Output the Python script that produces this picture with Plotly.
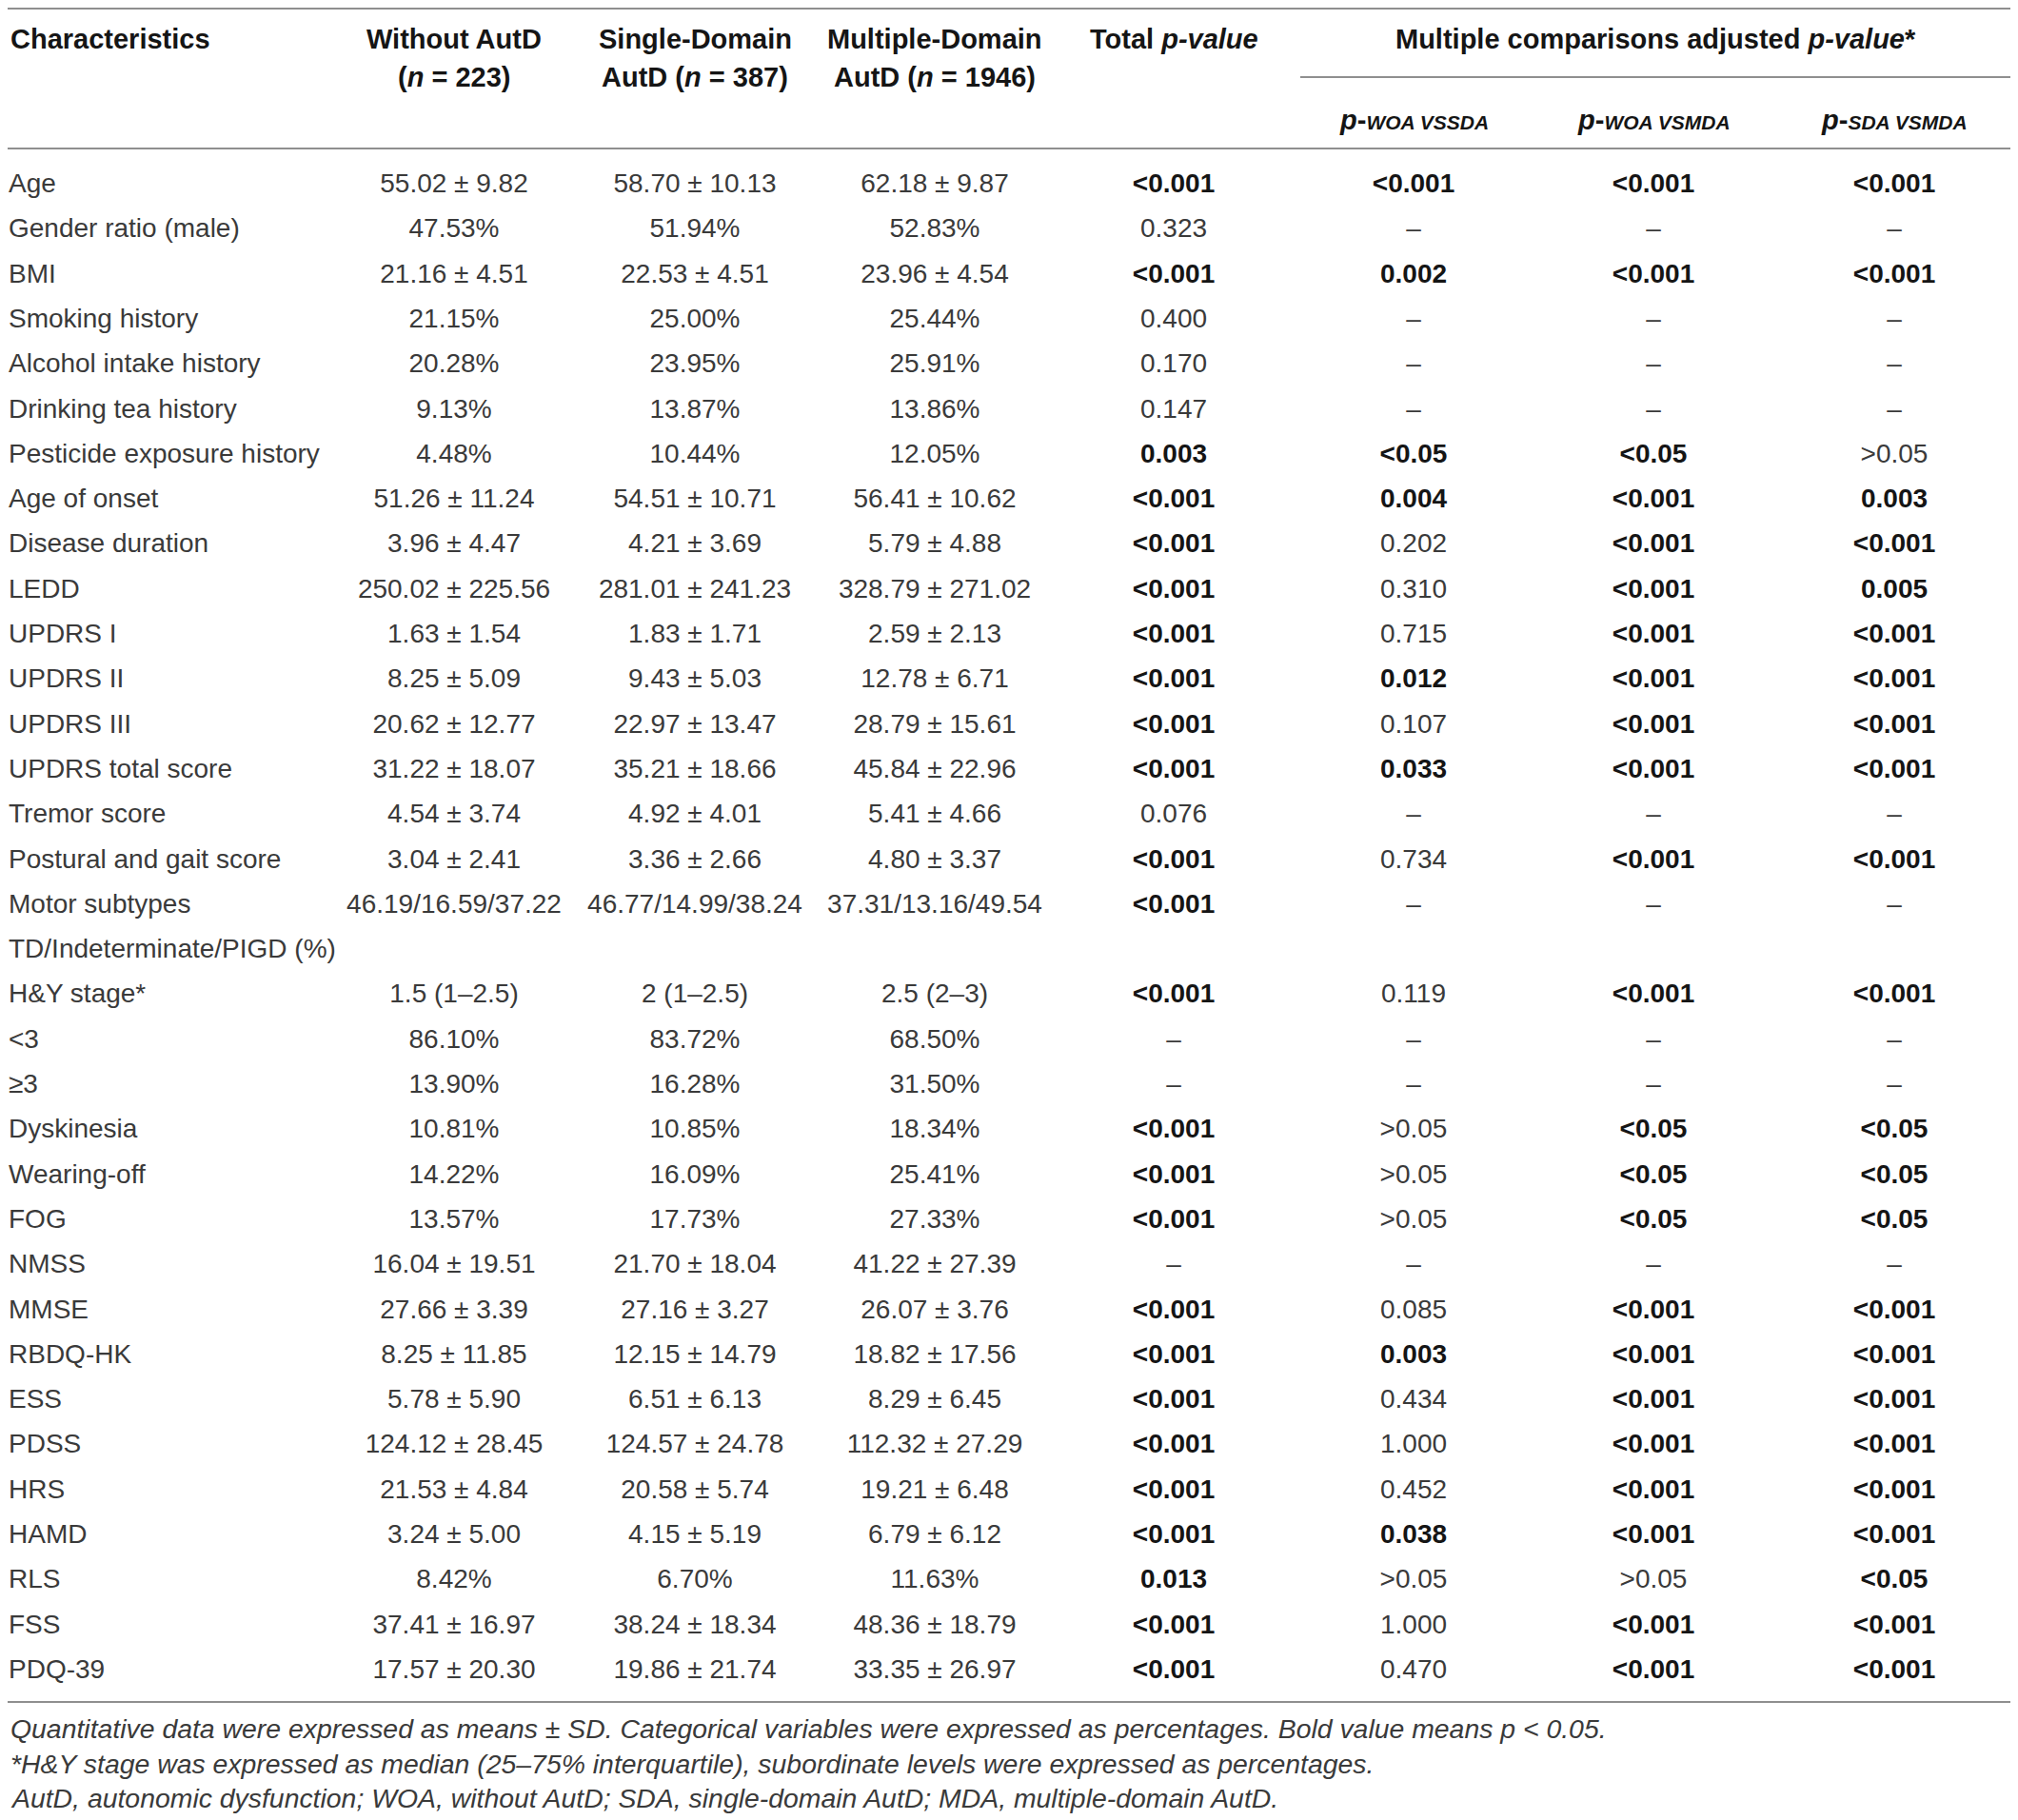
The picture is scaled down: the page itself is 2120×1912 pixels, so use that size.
# Table: clinical characteristics by autonomic dysfunction group, drawn as text traces

import plotly.graph_objs as go

# data
characteristics = ['Age', 'Gender ratio (male)', 'BMI', 'Smoking history', 'Alcohol intake history',
                   'Drinking tea history', 'Pesticide exposure history', 'Age of onset', 'Disease duration',
                   'LEDD', 'UPDRS I', 'UPDRS II', 'UPDRS III', 'UPDRS total score', 'Tremor score',
                   'Postural and gait score', 'Motor subtypes', 'TD/Indeterminate/PIGD (%)', 'H&Y stage*',
                   '<3', '≥3', 'Dyskinesia', 'Wearing-off', 'FOG', 'NMSS', 'MMSE', 'RBDQ-HK', 'ESS', 'PDSS',
                   'HRS', 'HAMD', 'RLS', 'FSS', 'PDQ-39']

without_autd = ['55.02 ± 9.82', '47.53%', '21.16 ± 4.51', '21.15%', '20.28%', '9.13%', '4.48%',
                '51.26 ± 11.24', '3.96 ± 4.47', '250.02 ± 225.56', '1.63 ± 1.54', '8.25 ± 5.09',
                '20.62 ± 12.77', '31.22 ± 18.07', '4.54 ± 3.74', '3.04 ± 2.41', '46.19/16.59/37.22', '',
                '1.5 (1–2.5)', '86.10%', '13.90%', '10.81%', '14.22%', '13.57%', '16.04 ± 19.51',
                '27.66 ± 3.39', '8.25 ± 11.85', '5.78 ± 5.90', '124.12 ± 28.45', '21.53 ± 4.84',
                '3.24 ± 5.00', '8.42%', '37.41 ± 16.97', '17.57 ± 20.30']

single_domain = ['58.70 ± 10.13', '51.94%', '22.53 ± 4.51', '25.00%', '23.95%', '13.87%', '10.44%',
                 '54.51 ± 10.71', '4.21 ± 3.69', '281.01 ± 241.23', '1.83 ± 1.71', '9.43 ± 5.03',
                 '22.97 ± 13.47', '35.21 ± 18.66', '4.92 ± 4.01', '3.36 ± 2.66', '46.77/14.99/38.24', '',
                 '2 (1–2.5)', '83.72%', '16.28%', '10.85%', '16.09%', '17.73%', '21.70 ± 18.04',
                 '27.16 ± 3.27', '12.15 ± 14.79', '6.51 ± 6.13', '124.57 ± 24.78', '20.58 ± 5.74',
                 '4.15 ± 5.19', '6.70%', '38.24 ± 18.34', '19.86 ± 21.74']

multiple_domain = ['62.18 ± 9.87', '52.83%', '23.96 ± 4.54', '25.44%', '25.91%', '13.86%', '12.05%',
                   '56.41 ± 10.62', '5.79 ± 4.88', '328.79 ± 271.02', '2.59 ± 2.13', '12.78 ± 6.71',
                   '28.79 ± 15.61', '45.84 ± 22.96', '5.41 ± 4.66', '4.80 ± 3.37', '37.31/13.16/49.54', '',
                   '2.5 (2–3)', '68.50%', '31.50%', '18.34%', '25.41%', '27.33%', '41.22 ± 27.39',
                   '26.07 ± 3.76', '18.82 ± 17.56', '8.29 ± 6.45', '112.32 ± 27.29', '19.21 ± 6.48',
                   '6.79 ± 6.12', '11.63%', '48.36 ± 18.79', '33.35 ± 26.97']

total_p = ['<0.001', '0.323', '<0.001', '0.400', '0.170', '0.147', '0.003', '<0.001', '<0.001',
           '<0.001', '<0.001', '<0.001', '<0.001', '<0.001', '0.076', '<0.001', '<0.001', '',
           '<0.001', '–', '–', '<0.001', '<0.001', '<0.001', '–', '<0.001', '<0.001', '<0.001',
           '<0.001', '<0.001', '<0.001', '0.013', '<0.001', '<0.001']

p_woa_sda = ['<0.001', '–', '0.002', '–', '–', '–', '<0.05', '0.004', '0.202', '0.310', '0.715',
             '0.012', '0.107', '0.033', '–', '0.734', '–', '', '0.119', '–', '–', '>0.05', '>0.05',
             '>0.05', '–', '0.085', '0.003', '0.434', '1.000', '0.452', '0.038', '>0.05', '1.000', '0.470']

p_woa_mda = ['<0.001', '–', '<0.001', '–', '–', '–', '<0.05', '<0.001', '<0.001', '<0.001', '<0.001',
             '<0.001', '<0.001', '<0.001', '–', '<0.001', '–', '', '<0.001', '–', '–', '<0.05', '<0.05',
             '<0.05', '–', '<0.001', '<0.001', '<0.001', '<0.001', '<0.001', '<0.001', '>0.05',
             '<0.001', '<0.001']

p_sda_mda = ['<0.001', '–', '<0.001', '–', '–', '–', '>0.05', '0.003', '<0.001', '0.005', '<0.001',
             '<0.001', '<0.001', '<0.001', '–', '<0.001', '–', '', '<0.001', '–', '–', '<0.05', '<0.05',
             '<0.05', '–', '<0.001', '<0.001', '<0.001', '<0.001', '<0.001', '<0.001', '<0.05',
             '<0.001', '<0.001']

footnotes = ['Quantitative data were expressed as means ± SD. Categorical variables were expressed as '
             'percentages. Bold value means p < 0.05.',
             '*H&Y stage was expressed as median (25–75% interquartile), subordinate levels were '
             'expressed as percentages.',
             'AutD, autonomic dysfunction; WOA, without AutD; SDA, single-domain AutD; MDA, '
             'multiple-domain AutD.']

# layout settings (axis units = page pixels; page body has an 8px margin)
W, H = 2120, 1912
OFF = 8
FONT = 'Liberation Sans'
SIZE = 28
HSIZE = 29
COLOR = '#3a3a3a'
DARK = '#151515'
RULE = '#8f8f8f'
ROW_TOP, ROW_STEP = 195, 47.3
col_x = [9, 477, 730, 982, 1233, 1485, 1737, 1990]


def esc(s):
    return s.replace('&', '&amp;').replace('<', '&lt;').replace('>', '&gt;')


def pfmt(s):
    # bold when p < 0.05
    bold = s.startswith('<')
    try:
        bold = bold or float(s) < 0.05
    except ValueError:
        pass
    if bold:
        return '<b><span style="color:%s">%s</span></b>' % (DARK, esc(s))
    return esc(s)


row_y = [ROW_TOP + i * ROW_STEP for i in range(len(characteristics))]

columns = [[esc(s) for s in characteristics],
           [esc(s) for s in without_autd],
           [esc(s) for s in single_domain],
           [esc(s) for s in multiple_domain],
           [pfmt(s) for s in total_p],
           [pfmt(s) for s in p_woa_sda],
           [pfmt(s) for s in p_woa_mda],
           [pfmt(s) for s in p_sda_mda]]

data = []
for i, col in enumerate(columns):
    data.append(go.Scatter(x=[col_x[i]] * len(col), y=row_y, text=col, mode='text',
                           textposition='middle right' if i == 0 else 'middle center',
                           textfont=dict(family=FONT, size=SIZE, color=COLOR),
                           hoverinfo='skip', showlegend=False))

# header texts
sub = '<span style="font-size:21px">%s</span>'
headers = [
    (col_x[0], 41, '<b>Characteristics</b>', 'left'),
    (col_x[1], 41, '<b>Without AutD</b>', 'center'),
    (col_x[1], 81, '<b>(<i>n</i> = 223)</b>', 'center'),
    (col_x[2], 41, '<b>Single-Domain</b>', 'center'),
    (col_x[2], 81, '<b>AutD (<i>n</i> = 387)</b>', 'center'),
    (col_x[3], 41, '<b>Multiple-Domain</b>', 'center'),
    (col_x[3], 81, '<b>AutD (<i>n</i> = 1946)</b>', 'center'),
    (col_x[4], 41, '<b>Total <i>p-value</i></b>', 'center'),
    (1739, 41, '<b>Multiple comparisons adjusted <i>p-value</i>*</b>', 'center'),
    (col_x[5], 126, '<b><i>p</i>-<i>' + sub % 'WOA VSSDA' + '</i></b>', 'center'),
    (col_x[6], 126, '<b><i>p</i>-<i>' + sub % 'WOA VSMDA' + '</i></b>', 'center'),
    (col_x[7], 126, '<b><i>p</i>-<i>' + sub % 'SDA VSMDA' + '</i></b>', 'center'),
]
annotations = []
for x, y, t, a in headers:
    annotations.append(dict(x=x, y=y, xref='x', yref='y', text=t, showarrow=False,
                            xanchor=a, yanchor='middle',
                            font=dict(family=FONT, size=HSIZE, color=DARK)))

for k, t in enumerate(footnotes):
    annotations.append(dict(x=col_x[0], y=1816 + k * 36.5, xref='x', yref='y',
                            text='<i>' + esc(t) + '</i>', showarrow=False,
                            xanchor='left', yanchor='middle',
                            font=dict(family=FONT, size=28.4, color=COLOR)))

# horizontal rules
shapes = [
    dict(type='line', x0=0, x1=W, y0=9, y1=9, line=dict(color=RULE, width=2)),
    dict(type='line', x0=1366, x1=2112, y0=81, y1=81, line=dict(color=RULE, width=2)),
    dict(type='line', x0=0, x1=W, y0=156, y1=156, line=dict(color=RULE, width=2)),
    dict(type='line', x0=0, x1=W, y0=1788, y1=1788, line=dict(color=RULE, width=2)),
]
for s in shapes:
    s.update(xref='x', yref='y')

layout = go.Layout(width=W - OFF, height=H - OFF, margin=dict(l=0, r=0, t=0, b=0),
                   paper_bgcolor='white', plot_bgcolor='white',
                   xaxis=dict(range=[OFF, W], visible=False, fixedrange=True),
                   yaxis=dict(range=[H, OFF], visible=False, fixedrange=True),
                   annotations=annotations, shapes=shapes)

fig = go.Figure(data=data, layout=layout)
fig.write_html('out.html')
